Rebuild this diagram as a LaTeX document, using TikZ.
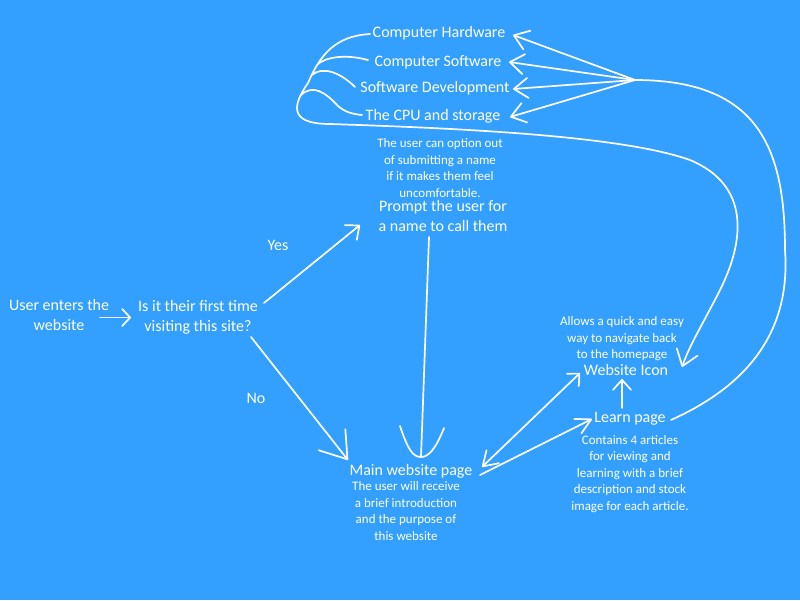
\documentclass[tikz,border=0pt]{standalone}
\usepackage{fontspec}
\setmainfont{Carlito}
\usetikzlibrary{arrows.meta,calc}
\definecolor{bg}{RGB}{51,159,255}
\begin{document}
\begin{tikzpicture}[x=1pt,y=-1pt,
  ln/.style={draw=white,line width=1.7pt,line cap=round,line join=round},
  big/.style={text=white,font=\fontsize{16}{20}\selectfont,align=center,inner sep=0pt},
  small/.style={text=white,font=\fontsize{13}{16.5}\selectfont,align=center,inner sep=0pt},
  tipT/.style={-{Straight Barb[length=14pt,width=20pt,round]}},
]
\fill[bg] (0,0) rectangle (800,600);
\useasboundingbox (0,0) rectangle (800,600);

% nodes
\node[big] (hw) at (439,33) {Computer Hardware};
\node[big] (sw) at (438,62) {Computer Software};
\node[big] (dev) at (435,88) {Software Development};
\node[big] (cpu) at (433,116) {The CPU and storage};
\node[small] (note1) at (440,168) {The user can option out\\of submitting a name\\if it makes them feel\\uncomfortable.};
\node[big] (prompt) at (443,216) {Prompt the user for\\a name to call them};
\node[big] (yes) at (278,245) {Yes};
\node[big] (user) at (59,315) {User enters the\\website};
\node[big] (q) at (198,317) {Is it their first time\\visiting this site?};
\node[big] (no) at (256,398) {No};
\node[big] (main) at (411,471) {Main website page};
\node[small] (mainnote) at (406,511) {The user will receive\\a brief introduction\\and the purpose of\\this website};
\node[small] (iconnote) at (622,339) {Allows a quick and easy\\way to navigate back\\to the homepage};
\node[big] (icon) at (626,370) {Website Icon};
\node[big] (learn) at (630,419) {Learn page};
\node[small] (learnnote) at (630,474) {Contains 4 articles\\for viewing and\\learning with a brief\\description and stock\\image for each article.};

% waypoints of the hand-drawn curves
\coordinate (hub) at (635,80);
\coordinate (r1) at (785,250);
\coordinate (stemA) at (308,83);
\coordinate (stemB) at (330,124);
\coordinate (c1) at (690,160);
\coordinate (c2) at (720,290);
\coordinate (bA) at (318,64);
\coordinate (bB) at (312,75);
\coordinate (bC) at (301,95);
\coordinate (cpuk) at (338,106);

% connectors
\draw[ln,-{Straight Barb[length=8pt,width=17pt,round]}] ($(user)+(41,2.5)$) -- ($(q)+(-67,0.5)$);
\draw[ln,-{Straight Barb[length=11pt,width=19pt,round]}] ($(q)+(66,-14)$) -- ($(prompt)+(-83,9)$);
\draw[ln,-{Straight Barb[length=25pt,width=34pt,round]}] ($(q)+(53,20)$) -- ($(main)+(-63,-11)$);
\draw[ln] ($(prompt)+(-14,21)$) -- ($(main)+(10,-14)$);
\draw[ln] ($(main)+(-11,-45)$) .. controls +(8,24) and +(-8,0) .. ($(main)+(10,-14)$)
          .. controls +(8,0) and +(-8,20) .. ($(main)+(33,-43)$);
\draw[ln,{Straight Barb[length=14pt,width=18pt,round]}-{Straight Barb[length=9pt,width=17pt,round]}]
  ($(main)+(71,-4)$) -- ($(icon)+(-46,3)$);
\draw[ln,-{Straight Barb[length=15pt,width=16pt,round]}] ($(main)+(69,4)$) -- ($(learn)+(-38,0)$);
\draw[ln,-{Straight Barb[length=10pt,width=18pt,round]}] ($(learn)+(-8,-11)$) -- ($(icon)+(-4,9)$);

\draw[ln] ($(learn)+(41,1)$) .. controls +(89,-40) and +(5,70) .. (r1)
          .. controls +(0,-100) and +(125,0) .. (hub);
\foreach \n/\dx/\dy in {hw/74/2, sw/71/0, dev/78/1, cpu/77/1}
  \draw[ln,tipT] (hub) -- ($(\n)+(\dx,\dy)$);

\draw[ln,-{Straight Barb[length=15pt,width=22pt,round]}] ($(hw)+(-69,1)$)
   .. controls +(-35,2) and +(12,-28) .. (stemA)
   .. controls +(-13,19) and +(-45,0) .. (stemB)
   .. controls +(120,4) and +(-70,-25) .. (c1)
   .. controls +(60,25) and +(25,-50) .. (c2)
   .. controls +(-15,30) and +(8,-23) .. ($(icon)+(56,-3)$);
\draw[ln] (bA) .. controls +(8,-7) and +(-22,-6) .. ($(sw)+(-70,-2)$);
\draw[ln] (bB) .. controls +(10,-9) and +(-15,-15) .. ($(dev)+(-80,-1)$);
\draw[ln] (bC) .. controls +(12,-11) and +(-13,-14) .. (cpuk)
          .. controls +(7,6) and +(-10,-1) .. ($(cpu)+(-71,-1)$);
\end{tikzpicture}
\end{document}
